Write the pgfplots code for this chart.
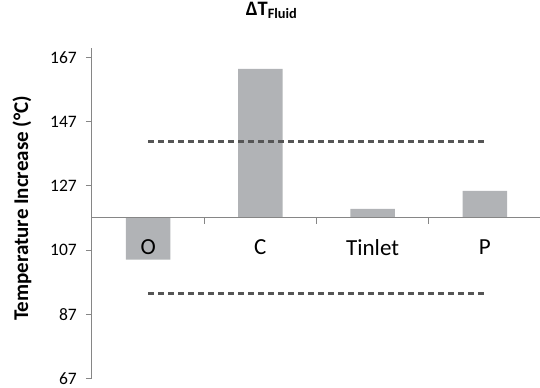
\documentclass[border=0pt]{standalone}
\usepackage{pgfplots}
\pgfplotsset{compat=1.18}
\usepackage{pgfplotstable}
\usepackage{fontspec}
\setmainfont{Carlito}
\definecolor{bargray}{HTML}{B1B3B6}
\definecolor{axgray}{HTML}{868686}
\definecolor{dashgray}{HTML}{555555}

% Temperature increase per category (deg C); axis crosses at 117
\pgfplotstableread{
x T
0 104.0
1 163.4
2 119.8
3 125.4
}\bars
\pgfplotstableread{
x T
0 140.8
3 140.8
}\upperline
\pgfplotstableread{
x T
0 93.4
3 93.4
}\lowerline

\begin{document}
\begin{tikzpicture}
\useasboundingbox (-92pt,-8.8pt) rectangle (448pt,378.4pt);
\begin{axis}[
  at={(0,0)}, anchor=south west,
  scale only axis, width=449pt, height=330.8pt,
  xmin=-0.5, xmax=3.5, ymin=-50, ymax=53,
  axis on top,
  axis x line=middle, axis y line=left,
  axis line style={axgray, line width=1pt, -},
  xtick={-0.5,0.5,1.5,2.5,3.5}, xticklabels={},
  extra x ticks={0,1,2,3},
  extra x tick labels={O,C,Tinlet,P},
  extra x tick style={major tick length=0pt,
    xticklabel style={font=\fontsize{23}{26}\selectfont, inner sep=0pt, anchor=north, yshift=-22pt}},
  ytick={-50,-30,-10,10,30,50},
  yticklabel={\fontsize{17.5}{20}\selectfont\pgfmathparse{int(round(\tick+117))}\pgfmathresult},
  yticklabel style={inner sep=0pt, anchor=east, xshift=-9pt},
  tick align=outside,
  major tick length=6pt,
  tick style={axgray, line width=0.8pt},
  ylabel={Temperature Increase (°C)},
  ylabel style={at={(axis description cs:-0.156,0.514)}, anchor=center,
    font=\bfseries\fontsize{21}{24}\selectfont},
  title={\fontsize{20.5}{24}\selectfont\bfseries ΔT\textsubscript{Fluid}},
  title style={at={(axis description cs:0.4,1.0777)}, anchor=base},
  clip=false,
]
\addplot[ybar, bar width=44.5pt, fill=bargray, draw=none]
  table[x=x, y expr=\thisrow{T}-117] {\bars};
\addplot[dashgray, line width=2.5pt, dash pattern=on 6pt off 4pt]
  table[x=x, y expr=\thisrow{T}-117] {\upperline};
\addplot[dashgray, line width=2.5pt, dash pattern=on 6pt off 4pt]
  table[x=x, y expr=\thisrow{T}-117] {\lowerline};
\end{axis}
\end{tikzpicture}
\end{document}
